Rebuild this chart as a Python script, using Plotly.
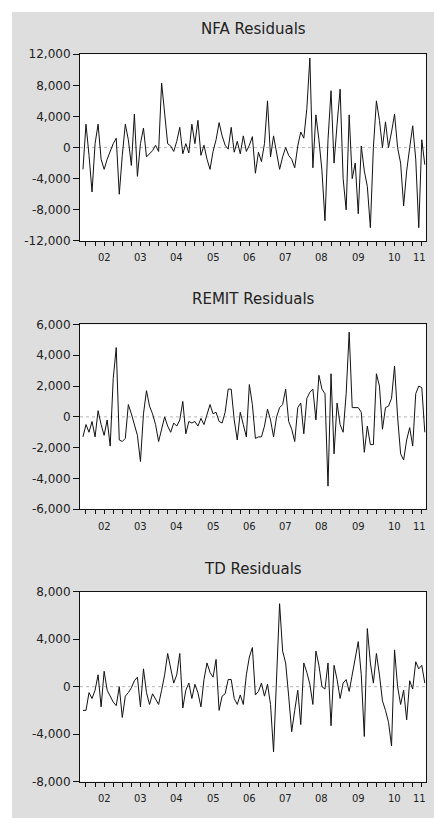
import plotly.graph_objects as go

# ---------------- data (thousands, monthly 2001M12 .. 2011M05) ----------------
start_year = 2001
start_month = 12

nfa = [-2.8, 3.0, -1.0, -5.7, 0.5, 3.0, -1.5, -2.8, -1.5, -0.5,
       0.5, 1.2, -6.0, -1.0, 3.0, 1.0, -2.3, 4.3, -3.7, 0.5,
       2.5, -1.2, -0.8, -0.4, 0.3, -0.5, 8.3, 4.0, 0.5, 0.2,
       -0.5, 0.8, 2.6, -0.8, 0.5, -0.7, 3.0, 0.5, 3.5, -1.0,
       0.3, -1.5, -2.8, -0.5, 1.0, 3.2, 1.5, 0.3, -0.2, 2.6,
       -0.6, 0.8, -0.8, 1.5, -0.5, 0.3, 1.4, -3.3, -0.6, -1.8,
       0.5, 6.0, -1.2, 1.5, -0.5, -2.8, -1.2, 0.0, -1.0, -1.5,
       -2.6, 0.2, 2.0, 1.2, 5.0, 11.5, -2.6, 4.2, 1.0, -3.0,
       -9.4, 1.0, 7.3, -2.0, 3.0, 7.5, -4.0, -8.0, 4.2, -4.0,
       -2.0, -8.5, 0.2, -3.0, -5.0, -10.3, 0.0, 6.0, 3.5, 0.0,
       3.3, 0.0, 2.0, 4.3, 0.0, -2.0, -7.5, -3.0, 0.0, 2.8,
       -1.5, -10.3, 1.0, -2.2]

remit = [-1.3, -0.5, -1.0, -0.3, -1.3, 0.4, -0.5, -1.2, -0.2, -1.9,
         2.5, 4.5, -1.5, -1.6, -1.4, 0.8, 0.2, -0.5, -1.2, -2.9,
         0.2, 1.7, 0.7, 0.2, -0.5, -1.6, -0.7, 0.0, -0.6, -1.0,
         -0.4, -0.6, -0.2, 1.0, -1.1, -0.3, -0.4, -0.3, -0.6, -0.1,
         -0.5, 0.2, 0.8, 0.2, 0.3, -0.3, -0.4, 0.3, 1.8, 1.8,
         -0.2, -1.5, 0.3, -0.5, -1.3, 2.1, 0.8, -1.4, -1.3, -1.3,
         -0.6, 0.5, -0.2, -1.3, 0.0, 0.6, 0.8, 1.8, -0.3, -0.8,
         -1.6, 0.6, 0.9, -1.1, 1.2, 1.6, 1.8, -0.2, 2.7, 1.8,
         1.5, -4.5, 2.8, -2.4, 0.9, -0.5, -1.0, 1.5, 5.5, 0.6,
         0.6, 0.6, 0.3, -2.3, -0.6, -1.8, -1.8, 2.8, 2.0, -0.8,
         0.6, 0.7, 1.2, 3.3, 0.0, -2.4, -2.8, -1.5, -0.7, -1.9,
         1.5, 2.0, 1.9, -1.0]

td = [-2.0, -2.0, -0.5, -1.0, -0.3, 1.0, -1.7, 1.3, -0.3, -0.8,
      -1.3, -1.6, 0.0, -2.6, -0.8, -0.5, -0.1, 0.5, 0.8, -1.7,
      1.5, -0.5, -1.5, -0.6, -1.0, -1.5, -0.3, 1.0, 2.8, 1.5,
      0.3, 1.0, 2.8, -1.8, -0.3, 0.3, -1.0, 0.2, -0.5, -1.7,
      0.6, 2.0, 1.2, 0.8, 2.3, -2.0, -0.8, -0.6, 0.6, 0.6,
      -1.0, -1.5, -0.7, -1.5, 1.0, 2.5, 3.3, -0.7, -0.4, 0.3,
      -0.8, 0.2, -1.5, -5.5, 0.5, 7.0, 3.0, 2.0, -0.8, -3.8,
      -2.0, -0.3, -3.2, 2.0, 1.2, 0.2, -1.5, 3.0, 1.8, 0.0,
      -0.2, 2.0, -3.3, 1.8, 0.6, -1.0, 0.3, 0.6, -0.4, 1.0,
      2.2, 3.8, 1.0, -4.2, 4.9, 2.0, 0.3, 2.8, 1.0, -1.2,
      -2.0, -3.0, -5.0, 3.1, 0.0, -1.5, -0.3, -2.8, 0.5, -0.2,
      2.1, 1.5, 1.8, 0.3]

titles = ["NFA Residuals", "REMIT Residuals", "TD Residuals"]
nfa_ticks = [-12000, -8000, -4000, 0, 4000, 8000, 12000]
remit_ticks = [-6000, -4000, -2000, 0, 2000, 4000, 6000]
td_ticks = [-8000, -4000, 0, 4000, 8000]
years = list(range(2002, 2012))
year_labels = ["02", "03", "04", "05", "06", "07", "08", "09", "10", "11"]

# ---------------- layout geometry ----------------
W, H = 434, 818
ML, MR = 80, 8
x_range = [2001.835, 2011.366]
panels_px = [(48, 238), (323, 511), (595, 788)]
title_shift = [25, 25, 23]

def t_of(i):
    m = (start_month - 1) + i
    return start_year + m / 12.0

series = [nfa, remit, td]
ticks = [nfa_ticks, remit_ticks, td_ticks]

fig = go.Figure()
shapes = []
annotations = []

# background: grey with a white strip on top/left edge
px2paperx = lambda p: (p - ML) / (W - ML - MR)
shapes.append(dict(type="rect", xref="paper", yref="paper",
                   x0=px2paperx(12), x1=px2paperx(W + 2), y0=-0.01, y1=1 - 5 / H,
                   fillcolor="#dedede", line=dict(width=0), layer="below"))

for k in range(3):
    xa = "x" if k == 0 else f"x{k+1}"
    ya = "y" if k == 0 else f"y{k+1}"
    vals = [v * 1000 for v in series[k]]
    xs = [t_of(i) for i in range(len(vals))]
    fig.add_trace(go.Scatter(x=xs, y=vals, mode="lines", xaxis=xa, yaxis=ya,
                             line=dict(color="#111111", width=1), showlegend=False,
                             hoverinfo="skip"))
    top, bot = panels_px[k]
    dom = [1 - bot / H, 1 - top / H]
    tv = ticks[k]
    axis_y = dict(domain=dom, range=[tv[0], tv[-1]], tickmode="array", tickvals=tv,
                  ticktext=[f"{v:,}" for v in tv], ticks="outside", ticklen=6,
                  tickcolor="#111", tickwidth=1, showline=True, linecolor="#111",
                  linewidth=1, mirror=True, showgrid=False, zeroline=False,
                  tickfont=dict(family="DejaVu Sans", size=12, color="#222"),
                  anchor=xa, fixedrange=True)
    quarters = [y + q / 4 for y in range(2001, 2012) for q in range(1, 4)] + \
               [y for y in range(2002, 2012)]
    axis_x = dict(domain=[0, 1], range=x_range, tickmode="array", tickvals=years,
                  ticktext=["" for _ in years], ticks="outside", ticklen=9,
                  tickcolor="#111", tickwidth=1, showline=True, linecolor="#111",
                  linewidth=1, mirror=True, showgrid=False, zeroline=False,
                  anchor=ya, fixedrange=True,
                  minor=dict(tickmode="array", tickvals=quarters, ticks="outside",
                             ticklen=4, tickcolor="#111", tickwidth=1, showgrid=False))
    fig.layout[("xaxis" if k == 0 else f"xaxis{k+1}")] = axis_x
    fig.layout[("yaxis" if k == 0 else f"yaxis{k+1}")] = axis_y

    xref_dom = f"{xa} domain"
    yref_dom = f"{ya} domain"
    shapes.append(dict(type="rect", xref=xref_dom, yref=yref_dom, x0=0, x1=1, y0=0, y1=1,
                       fillcolor="white", line=dict(width=0), layer="below"))
    shapes.append(dict(type="line", xref=xref_dom, yref=ya, x0=0, x1=1, y0=0, y1=0,
                       line=dict(color="#b8b8b8", width=1, dash="dot"), layer="below"))

    annotations.append(dict(text=titles[k], xref=xref_dom, yref=yref_dom, x=0.5, y=1,
                            yshift=title_shift[k], showarrow=False,
                            font=dict(family="DejaVu Sans", size=15, color="#222"),
                            xanchor="center", yanchor="middle"))
    for yr, lab in zip(years, year_labels):
        xpos = yr + 0.5 if yr + 1 <= x_range[1] else (yr + x_range[1]) / 2
        annotations.append(dict(text=lab, xref=xa, yref=yref_dom, x=xpos, y=0,
                                yshift=-17, showarrow=False, xanchor="center",
                                yanchor="middle",
                                font=dict(family="DejaVu Sans", size=10, color="#222")))

fig.update_layout(width=W, height=H, margin=dict(l=ML, r=MR, t=0, b=0),
                  paper_bgcolor="white", plot_bgcolor="white",
                  shapes=shapes, annotations=annotations, showlegend=False)

fig.write_html("out.html")
